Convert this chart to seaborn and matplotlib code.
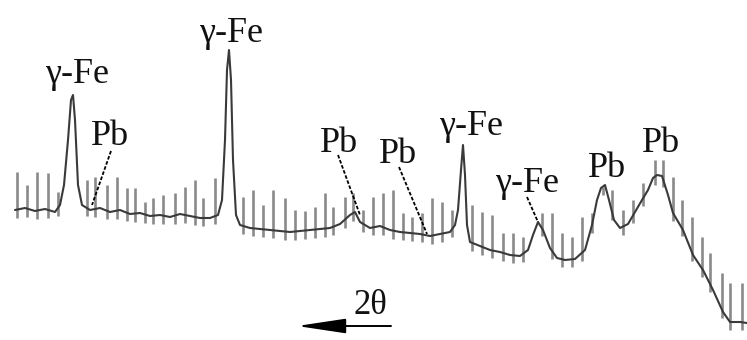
import numpy as np
import pandas as pd
import matplotlib
matplotlib.use("Agg")
import matplotlib.pyplot as plt
import seaborn as sns

# ---- data (position in a.u. along the scan, intensity in a.u.) ----
profile_x = [15, 25, 35, 45, 55, 60, 64, 68, 71, 73, 75, 78, 82, 90, 100, 110, 120, 130, 140, 150,
             160, 170, 180, 190, 200, 210, 218, 222, 225, 227, 229, 231, 233, 236, 240, 250, 260,
             270, 280, 290, 300, 310, 320, 330, 340, 350, 355, 360, 370, 380, 390, 400, 410, 420,
             430, 440, 450, 455, 458, 461, 463, 465, 467, 470, 480, 490, 500, 510, 520, 528, 533,
             538, 543, 550, 557, 565, 575, 585, 592, 597, 601, 605, 609, 614, 620, 628, 635, 642,
             648, 653, 657, 662, 668, 673, 683, 693, 703, 713, 723, 730, 740, 747]
profile_y = [130, 132, 129, 131, 128, 135, 155, 200, 240, 245, 220, 155, 135, 130, 132, 128, 130, 126,
             127, 124, 125, 123, 126, 124, 122, 122, 125, 140, 200, 270, 290, 260, 180, 125, 115,
             112, 111, 110, 109, 108, 109, 110, 111, 112, 116, 125, 128, 118, 112, 114, 110, 108,
             107, 106, 104, 106, 108, 115, 130, 170, 195, 165, 115, 98, 94, 90, 88, 85, 84, 90,
             105, 118, 110, 92, 82, 80, 81, 90, 115, 140, 152, 155, 140, 120, 112, 116, 128, 140,
             150, 162, 165, 164, 145, 127, 110, 85, 70, 50, 28, 18, 18, 17]

spike_x = [17, 27, 37, 48, 58, 87, 95, 107, 117, 127, 135, 145, 153, 163, 175, 185, 195, 203, 215,
           243, 253, 263, 273, 285, 295, 305, 315, 325, 333, 345, 353, 363, 373, 383, 393, 403, 412,
           422, 432, 442, 452, 472, 482, 492, 503, 513, 523, 542, 552, 562, 572, 582, 592, 603, 612,
           623, 633, 643, 655, 663, 673, 682, 692, 702, 710, 722, 730, 742]
spike_top = [168, 155, 168, 167, 148, 160, 163, 155, 163, 152, 152, 138, 142, 145, 147, 153, 160, 142,
             162, 143, 150, 135, 150, 142, 130, 129, 133, 147, 133, 143, 147, 130, 143, 147, 150,
             127, 123, 127, 142, 138, 130, 135, 128, 125, 107, 107, 103, 127, 127, 107, 103, 123,
             127, 153, 150, 130, 140, 157, 180, 180, 163, 140, 123, 103, 87, 67, 57, 57]

labels = ["γ-Fe", "Pb", "γ-Fe", "Pb", "Pb", "γ-Fe", "γ-Fe", "Pb", "Pb"]
label_x = [77, 110, 231, 339, 398, 471, 527, 607, 661]
label_y = [257, 195, 298, 188, 177, 205, 148, 163, 188]

leader_x0 = [111, 338, 399, 527]
leader_y0 = [189, 185, 173, 143]
leader_x1 = [92, 360, 427, 538]
leader_y1 = [135, 125, 106, 118]

axis_label = "2θ"

# ---- drawing ----
sns.set_theme(style="white")
plt.rcParams["font.family"] = ["Liberation Serif", "DejaVu Serif"]

fig = plt.figure(figsize=(7.47, 3.40), dpi=100)
ax = fig.add_axes([0, 0, 1, 1])
ax.set_xlim(0, 747)
ax.set_ylim(0, 340)
ax.axis("off")

px = np.array(profile_x, dtype=float)
py = np.array(profile_y, dtype=float)
sx = np.array(spike_x, dtype=float)
st = np.array(spike_top, dtype=float)
base = np.interp(sx, px, py) - 8

ax.vlines(sx, base, st, color="#8a8a8a", lw=1.9, zorder=2)

df = pd.DataFrame({"pos": px, "intensity": py})
sns.lineplot(data=df, x="pos", y="intensity", ax=ax, color="#3a3a3a", lw=1.5,
             sort=False, estimator=None, zorder=3)

for lab, x, y in zip(labels, label_x, label_y):
    ax.text(x, y, lab, ha="center", va="baseline", fontsize=26, color="#111111", zorder=4)

for x0, y0, x1, y1 in zip(leader_x0, leader_y0, leader_x1, leader_y1):
    ax.plot([x0, x1], [y0, y1], color="black", lw=1.3, ls=(0, (2, 1)), zorder=4)

ax.text(370, 26, axis_label, ha="center", va="baseline", fontsize=25, color="#111111")
ax.annotate("", xy=(297, 14), xytext=(391, 14),
            arrowprops=dict(arrowstyle="-|>,head_length=3.0,head_width=0.45",
                            mutation_scale=10, lw=1.4, color="black",
                            shrinkA=0, shrinkB=0))

fig.savefig("out.png", dpi=100, facecolor="white")
